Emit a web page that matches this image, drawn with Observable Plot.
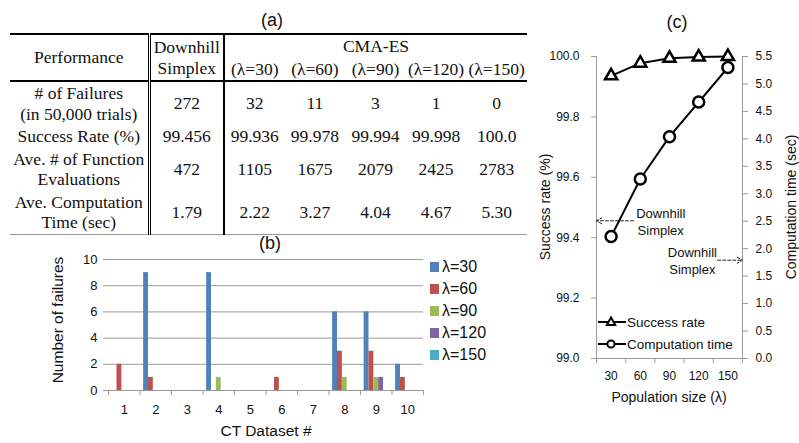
<!DOCTYPE html>
<html><head><meta charset="utf-8">
<script src="https://cdn.jsdelivr.net/npm/d3@7"></script>
<script src="https://cdn.jsdelivr.net/npm/@observablehq/plot@0.6"></script>
<style>
body{margin:0;background:#fff;}
#root{position:relative;width:799px;height:443px;overflow:hidden;font-family:"Liberation Sans",Arial,sans-serif;color:#111;}
.abs{position:absolute;white-space:nowrap;}
.c{transform:translate(-50%,-50%);}
.rot{transform:translate(-50%,-50%) rotate(-90deg);}
table.perf{position:absolute;left:10px;top:33px;width:517px;border-collapse:collapse;table-layout:fixed;font-family:"Liberation Serif","Times New Roman",serif;font-size:17.5px;line-height:20.5px;color:#111;border-top:2px solid #000;}
table.perf th,table.perf td{padding:1px 0;text-align:center;vertical-align:middle;font-weight:normal;}
.dbl{border-right:3px double #000;}
.sgl{border-right:2px solid #000;}
.hb{border-bottom:2px solid #000;}
.lb{border-bottom:1px solid #999;}
.legrow{position:absolute;display:flex;align-items:center;height:20px;white-space:nowrap;}
</style>
</head><body><div id="root"></div>
<script>
// ---------- data ----------
// (a) table
const perfLabels = ["# of Failures<br>(in 50,000 trials)", "Success Rate (%)", "Ave. # of Function<br>Evaluations", "Ave. Computation<br>Time (sec)"];
const downhillValues = [272, 99.456, 472, 1.79];
const lambdas = [30, 60, 90, 120, 150];
const failures = [32, 11, 3, 1, 0];
const successRate = [99.936, 99.978, 99.994, 99.998, 100.0];
const funcEvals = [1105, 1675, 2079, 2425, 2783];
const compTime = [2.22, 3.27, 4.04, 4.67, 5.30];

// (b) bar chart
const datasets = [1, 2, 3, 4, 5, 6, 7, 8, 9, 10];
const lambdaSeries = ["λ=30", "λ=60", "λ=90", "λ=120", "λ=150"];
const fail30  = [0, 9, 0, 9, 0, 0, 0, 6, 6, 2];
const fail60  = [2, 1, 0, 0, 0, 1, 0, 3, 3, 1];
const fail90  = [0, 0, 0, 1, 0, 0, 0, 1, 1, 0];
const fail120 = [0, 0, 0, 0, 0, 0, 0, 0, 1, 0];
const fail150 = [0, 0, 0, 0, 0, 0, 0, 0, 0, 0];
const seriesColors = ["#4F81BD", "#C0504D", "#9BBB59", "#8064A2", "#4BACC6"];
const yTicksB = [0, 2, 4, 6, 8, 10];

// (c) dual-axis chart
const srTicks = [99.0, 99.2, 99.4, 99.6, 99.8, 100.0];
const timeTicks = [0, 0.5, 1, 1.5, 2, 2.5, 3, 3.5, 4, 4.5, 5, 5.5];
const xBoundsC = [15, 45, 75, 105, 135, 165];

// ---------- layout ----------
const root = document.getElementById("root");
const FONT = '"Liberation Sans", Arial, sans-serif';
const GRAY = "#9a9a9a";
function addText(txt, x, y, size, cls = "c") {
  const d = document.createElement("div");
  d.className = "abs " + cls;
  d.style.left = x + "px"; d.style.top = y + "px"; d.style.fontSize = size + "px";
  d.innerHTML = txt;
  root.appendChild(d);
  return d;
}
function place(el, x, y) {
  el.style.position = "absolute";
  el.style.left = x + "px"; el.style.top = y + "px";
  el.style.maxWidth = "none";
  root.appendChild(el);
}

// ---------- (a) table ----------
addText("(a)", 272, 20, 18);
const fmtSR = v => v === 100 ? "100.0" : v.toFixed(3);
const rowsA = [
  [downhillValues[0], ...failures].map(String),
  [fmtSR(downhillValues[1]), ...successRate.map(fmtSR)],
  [downhillValues[2], ...funcEvals].map(String),
  [downhillValues[3].toFixed(2), ...compTime.map(v => v.toFixed(2))]
];
let html = '<colgroup><col style="width:139px"><col style="width:75px">' + lambdas.map(() => '<col>').join("") + '</colgroup>';
html += '<tr style="height:23px"><th rowspan="2" class="dbl hb">Performance</th><th rowspan="2" class="sgl hb">Downhill<br>Simplex</th><th colspan="5">CMA-ES</th></tr>';
html += '<tr style="height:22px">' + lambdas.map(l => `<th class="hb">(λ=${l})</th>`).join("") + '</tr>';
rowsA.forEach((r, i) => {
  const last = i === rowsA.length - 1 ? " lb" : "";
  html += '<tr>' + `<td class="dbl${last}">${perfLabels[i]}</td>` + `<td class="sgl${last}">${r[0]}</td>` +
    r.slice(1).map(v => `<td class="${last}">${v}</td>`).join("") + '</tr>';
});
const tbl = document.createElement("table");
tbl.className = "perf";
tbl.innerHTML = html;
root.appendChild(tbl);

// ---------- (b) bar chart ----------
addText("(b)", 270, 243, 18);
const failSeries = [fail30, fail60, fail90, fail120, fail150];
const barRows = [];
failSeries.forEach((arr, si) => arr.forEach((v, di) => barRows.push({ds: datasets[di], series: lambdaSeries[si], count: v})));
const bW = 430, bML = 108, bMR = 7;
const bStep = (bW - bML - bMR) / datasets.length;
const chartB = Plot.plot({
  width: bW, height: 193, marginLeft: bML, marginRight: bMR, marginTop: 9, marginBottom: 53,
  style: {fontFamily: FONT, fontSize: "13px", color: "#111", background: "transparent"},
  fx: {domain: datasets, padding: 0, round: false},
  x: {domain: lambdaSeries, paddingInner: 0, paddingOuter: 0.75, round: false, axis: null},
  y: {domain: [0, 10]},
  color: {domain: lambdaSeries, range: seriesColors},
  marks: [
    Plot.gridY({ticks: yTicksB, stroke: GRAY, strokeOpacity: 1}),
    Plot.axisY({ticks: yTicksB, tickSize: 5, tickPadding: 6, stroke: GRAY, label: null}),
    Plot.axisFx({anchor: "bottom", tickSize: 0, tickPadding: 14, label: null}),
    Plot.axisFx({anchor: "bottom", tickSize: 5, tickFormat: () => "", stroke: GRAY, label: null, dx: -bStep / 2}),
    Plot.axisFx({anchor: "bottom", ticks: [datasets[datasets.length - 1]], tickSize: 5, tickFormat: () => "", stroke: GRAY, label: null, dx: bStep / 2}),
    Plot.barY(barRows, {fx: "ds", x: "series", y: "count", fill: "series"})
  ]
});
place(chartB, 0, 250);
addText("Number of failures", 58, 320, 15.5, "rot");
addText("CT Dataset #", 266, 431, 15.5);
lambdaSeries.forEach((s, i) => {
  const row = document.createElement("div");
  row.className = "legrow";
  row.style.left = "430px"; row.style.top = (267 + i * 22 - 10) + "px";
  row.innerHTML = `<span style="display:inline-block;width:9px;height:10px;background:${seriesColors[i]};margin-right:3px"></span><span style="font-size:16px">${s}</span>`;
  root.appendChild(row);
});

// ---------- (c) dual-axis line chart ----------
addText("(c)", 677, 22, 18);
const cData = lambdas.map((l, i) => ({lambda: l, success: successRate[i], time: compTime[i]}));
const commonC = {width: 299, height: 403, marginLeft: 96, marginRight: 57, marginTop: 16, marginBottom: 85};
const chartC1 = Plot.plot({
  ...commonC,
  style: {fontFamily: FONT, fontSize: "12px", color: "#111", background: "transparent"},
  x: {domain: [15, 165]},
  y: {domain: [99, 100]},
  marks: [
    Plot.ruleX([15], {stroke: GRAY}),
    Plot.ruleY([99], {stroke: GRAY}),
    Plot.axisY({ticks: srTicks, tickFormat: d3.format(".1f"), tickSize: 5, tickPadding: 12, stroke: GRAY, label: null}),
    Plot.axisX({ticks: xBoundsC, tickSize: 5, tickFormat: () => "", stroke: GRAY, label: null}),
    Plot.axisX({ticks: lambdas, tickSize: 0, tickPadding: 13, label: null}),
    Plot.arrow([0], {x1: 53, y1: downhillValues[1], x2: 15, y2: downhillValues[1], stroke: "#222", strokeWidth: 1, strokeDasharray: "3,2", headLength: 9}),
    Plot.text(["Downhill\nSimplex"], {x: 81, y: downhillValues[1], fontSize: 13, lineHeight: 1.3, lineAnchor: "middle"}),
    Plot.line(cData, {x: "lambda", y: "success", stroke: "#000", strokeWidth: 2}),
    Plot.dot(cData, {x: "lambda", y: "success", symbol: "triangle", r: 4.5, stroke: "#000", strokeWidth: 2.5, fill: "#fff"})
  ]
});
const chartC2 = Plot.plot({
  ...commonC,
  style: {fontFamily: FONT, fontSize: "12px", color: "#111", background: "transparent"},
  x: {domain: [15, 165], axis: null},
  y: {domain: [0, 5.5]},
  marks: [
    Plot.ruleX([165], {stroke: GRAY}),
    Plot.axisY({anchor: "right", ticks: timeTicks, tickFormat: d3.format(".1f"), tickSize: 5, tickPadding: 8, stroke: GRAY, label: null}),
    Plot.arrow([0], {x1: 139.5, y1: downhillValues[3], x2: 165, y2: downhillValues[3], stroke: "#222", strokeWidth: 1, strokeDasharray: "3,2", headLength: 9}),
    Plot.text(["Downhill\nSimplex"], {x: 113.5, y: downhillValues[3], fontSize: 13, lineHeight: 1.3, lineAnchor: "middle"}),
    Plot.line(cData, {x: "lambda", y: "time", stroke: "#000", strokeWidth: 2}),
    Plot.dot(cData, {x: "lambda", y: "time", symbol: "circle", r: 5.5, stroke: "#000", strokeWidth: 2.5, fill: "#fff"})
  ]
});
place(chartC1, 500, 40);
place(chartC2, 500, 40);
addText("Success rate (%)", 545, 207, 14, "rot");
addText("Computation time (sec)", 791, 207, 14, "rot");
addText("Population size (λ)", 669, 397, 14);

// legend for (c)
const legC = [
  {label: "Success rate", shape: '<path d="M14,4.5 L18.2,12 L9.8,12 Z" fill="#fff" stroke="#000" stroke-width="2"/>'},
  {label: "Computation time", shape: '<circle cx="14" cy="9" r="3.6" fill="#fff" stroke="#000" stroke-width="2"/>'}
];
legC.forEach((d, i) => {
  const row = document.createElement("div");
  row.className = "legrow";
  row.style.left = "597px"; row.style.top = (322 + i * 22 - 10) + "px";
  row.innerHTML = `<svg width="30" height="18" style="display:block"><line x1="1" x2="29" y1="9" y2="9" stroke="#000" stroke-width="2"/>${d.shape}</svg><span style="font-size:13.5px">${d.label}</span>`;
  root.appendChild(row);
});
</script></body></html>
